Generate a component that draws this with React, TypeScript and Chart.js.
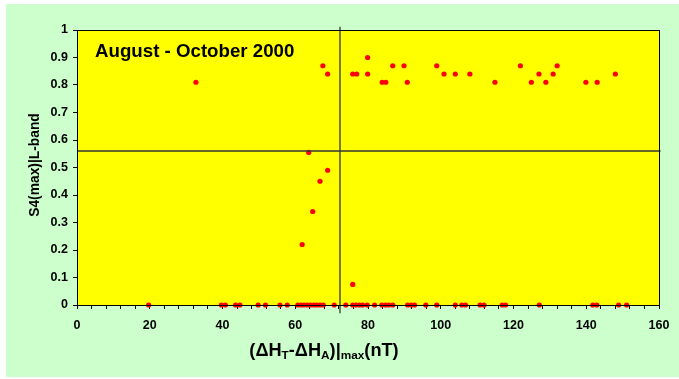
import { useEffect, useRef } from 'react';
import { Chart, registerables } from 'chart.js';

Chart.register(...registerables);

// Values
const pointX = [
  32.7, 61.9, 63.7, 64.8, 66.8, 67.6, 68.9, 68.9, 75.8, 76.9, 75.8, 79.9, 79.9, 83.9, 84.9, 86.8,
  89.9, 90.8, 98.9, 100.9, 104, 108, 114.9, 121.9, 124.9, 127, 128.9, 130.9, 132, 139.9, 143, 148,
  19.7, 39.7, 40.8, 43.6, 44.8, 49.8, 51.8, 55.8, 57.8, 60.7, 61.6, 62.4, 63.3, 64.2, 65.1, 65.9,
  66.8, 67.7, 70.7, 73.9, 75.8, 76.7, 77.6, 78.5, 79.8, 81.8, 83.8, 84.8, 85.7, 86.8, 90.9, 91.9,
  92.8, 95.9, 98.9, 104, 105.8, 106.8, 110.8, 111.9, 116.9, 117.8, 127.1, 141.8, 142.9, 148.9, 151.1,
];
const pointS4 = [
  0.81, 0.22, 0.555, 0.34, 0.45, 0.87, 0.84, 0.49, 0.84, 0.84, 0.075, 0.9, 0.84, 0.81, 0.81, 0.87,
  0.87, 0.81, 0.87, 0.84, 0.84, 0.84, 0.81, 0.87, 0.81, 0.84, 0.81, 0.84, 0.87, 0.81, 0.81, 0.84,
  0, 0, 0, 0, 0, 0, 0, 0, 0, 0, 0, 0, 0, 0, 0, 0,
  0, 0, 0, 0, 0, 0, 0, 0, 0, 0, 0, 0, 0, 0, 0, 0,
  0, 0, 0, 0, 0, 0, 0, 0, 0, 0, 0, 0, 0, 0, 0,
];
const thresholdX = [72.3, 72.3];
const thresholdXSpan = [-0.03, 1.012];
const thresholdS4 = [0.56, 0.56];
const thresholdS4Span = [0, 160.4];

const titleText = 'August - October 2000';
const yTitleText = 'S4(max)|L-band';
const xTitleParts: [string, boolean][] = [
  ['(\u0394H', false],
  ['T', true],
  ['-\u0394H', false],
  ['A', true],
  [')|', false],
  ['max', true],
  ['(nT)', false],
];

const FONT = '"Liberation Sans", Arial, sans-serif';

const decorPlugin = {
  id: 'decor',
  beforeDraw(chart: any) {
    const { ctx, chartArea: a, width, height } = chart;
    ctx.save();
    ctx.fillStyle = '#ffffff';
    ctx.fillRect(0, 0, width, height);
    ctx.fillStyle = '#ccffcc';
    ctx.fillRect(6, 4, width - 6, 373);
    ctx.fillStyle = '#ffff00';
    ctx.fillRect(a.left, a.top, a.right - a.left, a.bottom - a.top);
    ctx.restore();
  },
  afterDraw(chart: any) {
    const { ctx, chartArea: a } = chart;
    ctx.save();
    ctx.strokeStyle = '#000000';
    ctx.lineWidth = 1;
    ctx.strokeRect(a.left + 0.5, a.top + 0.5, a.right - a.left, a.bottom - a.top);

    ctx.fillStyle = '#000000';
    ctx.textBaseline = 'alphabetic';
    ctx.textAlign = 'left';
    ctx.font = `bold 18.7px ${FONT}`;
    ctx.fillText(titleText, a.left + 18, a.top + 27);

    // y title
    ctx.save();
    ctx.translate(39, 165);
    ctx.rotate(-Math.PI / 2);
    ctx.textAlign = 'center';
    ctx.font = `bold 13.8px ${FONT}`;
    ctx.fillText(yTitleText, 0, 0);
    ctx.restore();

    // x title with subscripts
    const mainFont = `bold 18.2px ${FONT}`;
    const subFont = `bold 11.8px ${FONT}`;
    let total = 0;
    const widths = xTitleParts.map(([t, sub]) => {
      ctx.font = sub ? subFont : mainFont;
      const w = ctx.measureText(t).width;
      total += w;
      return w;
    });
    let x = 324 - total / 2;
    const base = 356;
    xTitleParts.forEach(([t, sub], i) => {
      ctx.font = sub ? subFont : mainFont;
      ctx.fillText(t, x, sub ? base + 3 : base);
      x += widths[i];
    });
    ctx.restore();
  },
};

export default function App() {
  const ref = useRef<HTMLCanvasElement | null>(null);

  useEffect(() => {
    document.body.style.margin = '0';
    if (!ref.current) return;
    const chart = new Chart(ref.current, {
      type: 'scatter',
      data: {
        datasets: [
          {
            label: 'threshold x',
            data: thresholdX.map((x, i) => ({ x, y: thresholdXSpan[i] })),
            showLine: true,
            borderColor: '#333333',
            borderWidth: 1.3,
            pointRadius: 0,
            clip: false,
          } as any,
          {
            label: 'threshold s4',
            data: thresholdS4Span.map((x, i) => ({ x, y: thresholdS4[i] })),
            showLine: true,
            borderColor: '#333333',
            borderWidth: 1.3,
            pointRadius: 0,
            clip: false,
          } as any,
          {
            label: 'S4',
            data: pointX.map((x, i) => ({ x, y: pointS4[i] })),
            backgroundColor: '#ff0000',
            borderWidth: 0,
            pointRadius: 2.6,
            clip: false,
          } as any,
        ],
      },
      options: {
        responsive: false,
        animation: false,
        events: [],
        layout: { padding: { top: 30, right: 20, left: 0, bottom: 0 } },
        plugins: { legend: { display: false }, tooltip: { enabled: false }, title: { display: false } },
        scales: {
          x: {
            type: 'linear',
            min: 0,
            max: 160,
            afterFit(scale: any) {
              scale.height = 74;
              scale.paddingLeft = 0;
              scale.paddingRight = 0;
            },
            grid: { drawOnChartArea: false, drawTicks: true, tickLength: 4, color: '#000000' },
            border: { display: true, color: '#000000' },
            ticks: {
              stepSize: 4,
              autoSkip: false,
              maxRotation: 0,
              padding: 9,
              color: '#000000',
              font: { family: FONT, size: 12.5, weight: 'bold' },
              callback: (v: any) => (Number(v) % 20 === 0 ? String(v) : ''),
            },
          },
          y: {
            type: 'linear',
            min: 0,
            max: 1,
            afterFit(scale: any) {
              scale.width = 77;
              scale.paddingTop = 0;
              scale.paddingBottom = 0;
            },
            grid: { drawOnChartArea: false, drawTicks: true, tickLength: 4, color: '#000000' },
            border: { display: true, color: '#000000' },
            ticks: {
              stepSize: 0.1,
              padding: 5,
              color: '#000000',
              font: { family: FONT, size: 12.5, weight: 'bold' },
              callback: (v: any) => String(Number(Number(v).toFixed(1))),
            },
          },
        },
      },
      plugins: [decorPlugin],
    } as any);
    return () => chart.destroy();
  }, []);

  return (
    <div style={{ width: 679, height: 379 }}>
      <canvas ref={ref} width={679} height={379} style={{ display: 'block' }} />
    </div>
  );
}
